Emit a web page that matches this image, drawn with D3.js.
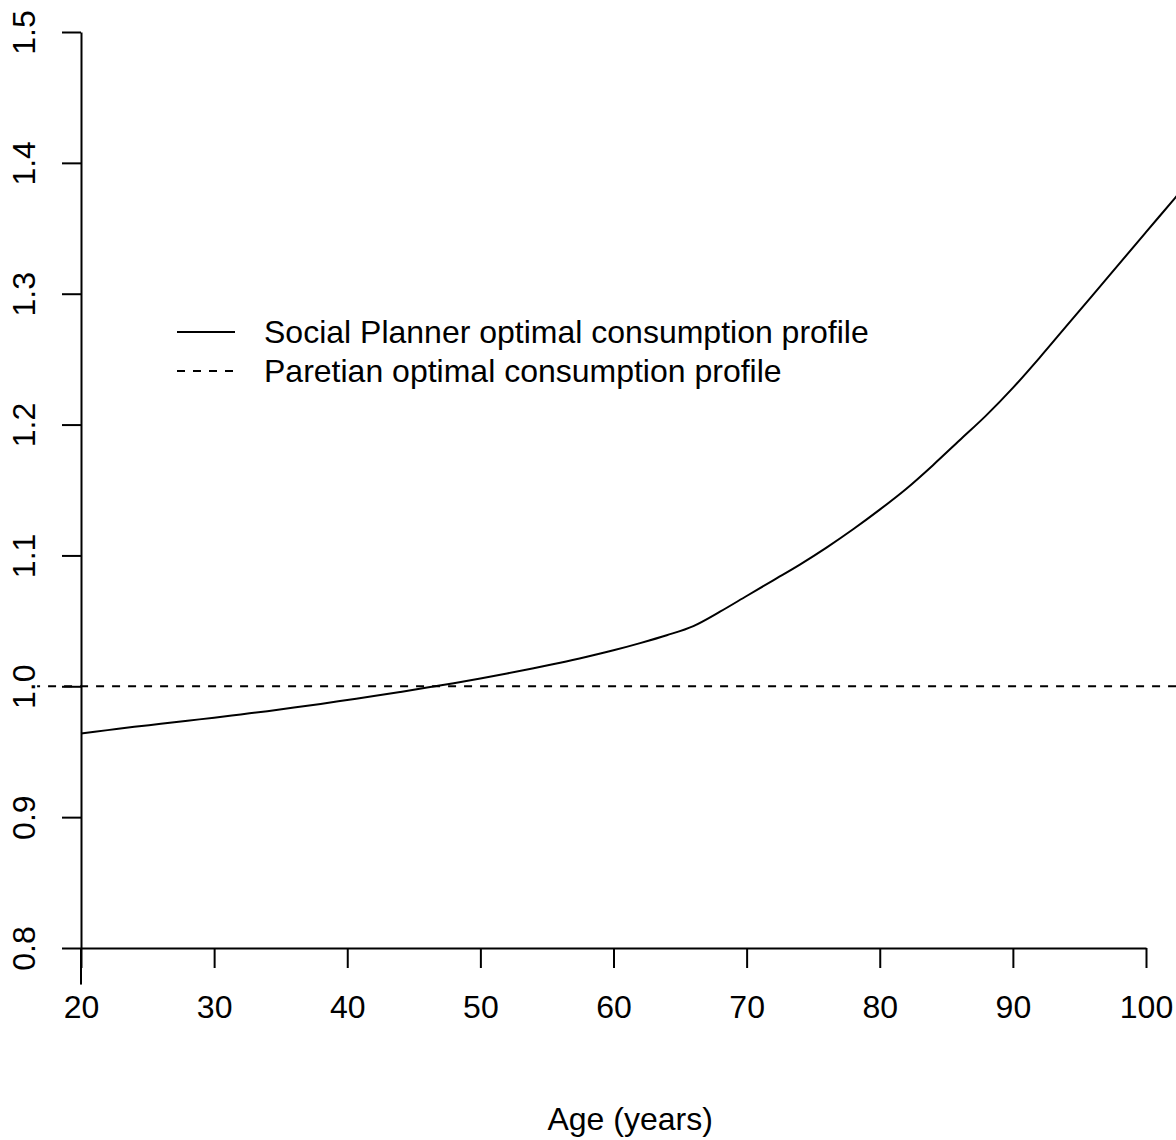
<!DOCTYPE html>
<html>
<head>
<meta charset="utf-8">
<script src="https://cdn.jsdelivr.net/npm/d3@7"></script>
<style>
    body { margin: 0; background: #fff; }
    svg text { font-family: "Liberation Sans", Arial, Helvetica, sans-serif; fill: #000; }
</style>
</head>
<body>
<script>
// values
const ages = [20, 22, 24, 26, 28, 30, 32, 34, 36, 38, 40, 42, 44, 46, 48, 50, 52, 54, 56, 58,
    60, 62, 64, 66, 68, 70, 72, 74, 76, 78, 80, 82, 84, 86, 88, 90, 92, 94, 96, 98, 100, 102, 102.5];
const plannerValues = [0.964, 0.9665, 0.969, 0.9713, 0.9737, 0.976, 0.9785, 0.981, 0.9837, 0.9865,
    0.9895, 0.9925, 0.9957, 0.999, 1.0024, 1.006, 1.0098, 1.0138, 1.018, 1.0226,
    1.0275, 1.033, 1.039, 1.046, 1.057, 1.069, 1.081, 1.093, 1.106, 1.120,
    1.135, 1.151, 1.169, 1.188, 1.207, 1.228, 1.251, 1.275, 1.299, 1.323,
    1.347, 1.371, 1.377];
const paretianValue = 1.0;

const xTicks = [20, 30, 40, 50, 60, 70, 80, 90, 100];
const yTicks = [0.8, 0.9, 1.0, 1.1, 1.2, 1.3, 1.4, 1.5];
const legendLabels = ['Social Planner optimal consumption profile', 'Paretian optimal consumption profile'];
const xTitle = 'Age (years)';

const width = 1176;
const height = 1140;
const fontSize = 32;
const lineWidth = 2;
const dash = '8,8';

const x = d3.scaleLinear()
    .domain([20, 100])
    .range([81, 1146]);

const y = d3.scaleLinear()
    .domain([0.8, 1.5])
    .range([948, 32]);

// plot region like R's default 4% padding
const xMin = d3.min(ages), xMax = d3.max(ages);
const xLo = xMin - 0.04 * (xMax - xMin), xHi = xMax + 0.04 * (xMax - xMin);
const yLo = 0.8 - 0.04 * 0.7, yHi = 1.5 + 0.04 * 0.7;

const data = ages.map((a, i) => ({ age: a, value: plannerValues[i] }));

const svg = d3.create('svg')
    .attr('width', width)
    .attr('height', height)
    .attr('viewBox', `0 0 ${width} ${height}`);

svg.append('rect')
    .attr('width', width)
    .attr('height', height)
    .attr('fill', '#fff');

svg.append('clipPath')
    .attr('id', 'plot-clip')
    .append('rect')
    .attr('x', x(xLo))
    .attr('y', y(yHi))
    .attr('width', x(xHi) - x(xLo))
    .attr('height', y(yLo) - y(yHi));

const plot = svg.append('g')
    .attr('clip-path', 'url(#plot-clip)');

// horizontal reference line
plot.append('line')
    .attr('x1', x(xLo))
    .attr('x2', x(xHi))
    .attr('y1', y(paretianValue))
    .attr('y2', y(paretianValue))
    .attr('stroke', '#000')
    .attr('stroke-width', lineWidth)
    .attr('stroke-dasharray', dash)
    .attr('stroke-dashoffset', 5);

// vertical line at the start age down to the plot edge
plot.append('line')
    .attr('x1', x(xMin))
    .attr('x2', x(xMin))
    .attr('y1', y(0.8))
    .attr('y2', y(yLo))
    .attr('stroke', '#000')
    .attr('stroke-width', lineWidth);

const line = d3.line()
    .x(d => x(d.age))
    .y(d => y(d.value))
    .curve(d3.curveMonotoneX);

plot.append('path')
    .datum(data)
    .attr('fill', 'none')
    .attr('stroke', '#000')
    .attr('stroke-width', lineWidth)
    .attr('stroke-linejoin', 'round')
    .attr('d', line);

// axes
const x_axis = d3.axisBottom(x)
    .tickValues(xTicks)
    .tickSize(20)
    .tickSizeOuter(0)
    .tickPadding(27)
    .tickFormat(d3.format('d'));

const y_axis = d3.axisLeft(y)
    .tickValues(yTicks)
    .tickSize(19)
    .tickSizeOuter(0)
    .tickFormat(d3.format('.1f'));

const gx = svg.append('g')
    .attr('transform', `translate(0,${y(0.8)})`)
    .call(x_axis);

const gy = svg.append('g')
    .attr('transform', `translate(${x(20)},0)`)
    .call(y_axis);

[gx, gy].forEach(g => {
    g.attr('font-size', fontSize)
        .attr('font-family', null);
    g.selectAll('path, line')
        .attr('stroke', '#000')
        .attr('stroke-width', lineWidth);
});

gy.selectAll('text')
    .attr('transform', 'rotate(-90)')
    .attr('x', 0)
    .attr('y', -46)
    .attr('dy', 0)
    .attr('text-anchor', 'middle');

// legend
const legend = svg.append('g')
    .attr('transform', 'translate(177,332)');

const item = legend.selectAll('g')
    .data(legendLabels)
    .join('g')
    .attr('transform', (d, i) => `translate(0,${i * 39})`);

item.append('line')
    .attr('x1', 0)
    .attr('x2', 58)
    .attr('stroke', '#000')
    .attr('stroke-width', lineWidth)
    .attr('stroke-dasharray', (d, i) => i === 1 ? dash : null);

item.append('text')
    .attr('x', 87)
    .attr('dy', '0.35em')
    .attr('font-size', fontSize)
    .text(d => d);

// x title
svg.append('text')
    .attr('x', x((xLo + xHi) / 2))
    .attr('y', 1130)
    .attr('text-anchor', 'middle')
    .attr('font-size', fontSize)
    .text(xTitle);

document.querySelector('body').appendChild(svg.node());
</script>
</body>
</html>
